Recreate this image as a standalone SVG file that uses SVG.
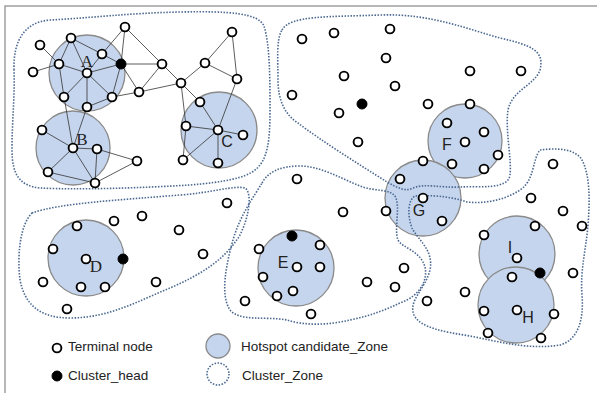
<svg xmlns="http://www.w3.org/2000/svg" width="597" height="393" viewBox="0 0 597 393">
<style>
.hz{fill:#c5d5ed;stroke:#8a8a8a;stroke-width:1.3}
.cz{fill:none;stroke:#4a6890;stroke-width:1.6;stroke-dasharray:1.5 1.5}
.t{fill:#fff;stroke:#000;stroke-width:1.9}
.h{fill:#000;stroke:#000;stroke-width:1}
.e line{stroke:#333;stroke-width:0.8}
.ls{font-family:"Liberation Sans",Arial,sans-serif;font-size:16px;fill:#222;text-anchor:middle}
.lr{font-family:"Liberation Serif","Times New Roman",serif;font-size:17px;fill:#222;text-anchor:middle}
.lg{font-family:"Liberation Sans",Arial,sans-serif;font-size:13.5px;fill:#222}
</style>
<rect x="0" y="0" width="597" height="393" fill="#fff"/>
<path d="M5,393 V6 H597" fill="none" stroke="#a0a0a0" stroke-width="1.5"/>

<g id="hotspots">
<g id="zone-A"><circle class="hz" cx="87" cy="73" r="38"/></g>
<g id="zone-B"><circle class="hz" cx="73" cy="148" r="37"/></g>
<g id="zone-C"><circle class="hz" cx="219" cy="130" r="38"/></g>
<g id="zone-D"><circle class="hz" cx="86" cy="258" r="38"/></g>
<g id="zone-E"><circle class="hz" cx="296" cy="268" r="38"/></g>
<g id="zone-F"><circle class="hz" cx="465" cy="141" r="37"/></g>
<g id="zone-G"><circle class="hz" cx="423" cy="198" r="38"/></g>
<g id="zone-I"><circle class="hz" cx="517" cy="254" r="38"/></g>
<g id="zone-H"><circle class="hz" cx="516" cy="305" r="38"/></g>
</g>

<g id="cluster-zones">
<path id="cz1" class="cz" d="M14,70 C13,40 25,22 50,20 C90,18 130,13 180,12 C230,11 258,13 264,26 C270,45 270,80 270,110 C270,140 268,160 255,170 C245,178 225,182 190,185 C140,188 80,190 40,188 C20,186 12,175 12,150 C12,120 15,95 14,70 Z"/>
<path id="cz2" class="cz" d="M282,30 C290,15 330,17 380,15 C430,13 470,30 500,38 C530,45 545,50 540,70 C535,85 512,90 508,110 C505,130 512,160 510,175 C508,190 480,186 460,187 C440,188 425,183 413,188 C405,192 398,188 387,182 C360,165 320,140 298,123 C285,115 278,100 278,80 C278,60 276,40 282,30 Z"/>
<path id="cz3" class="cz" d="M32,213 C60,203 120,200 180,195 C210,193 235,185 245,188 C252,192 250,215 240,235 C225,260 200,275 170,288 C140,300 110,318 70,318 C40,318 25,305 20,280 C17,255 20,225 32,213 Z"/>
<path id="cz4" class="cz" d="M262,183 C268,172 280,166 300,166 C320,166 340,178 360,186 C375,192 392,188 396,198 C400,210 394,230 398,240 C402,248 420,250 425,267 C428,280 420,296 400,303 C385,310 370,316 350,320 C330,325 305,326 287,320 C265,316 240,322 230,310 C220,295 226,265 233,240 C240,215 255,195 262,183 Z"/>
<path id="cz5" class="cz" d="M540,150 C555,148 575,148 582,160 C590,175 590,200 588,225 C586,250 580,270 582,295 C584,320 578,340 560,345 C530,350 500,342 470,336 C445,332 420,328 414,315 C408,300 425,290 430,270 C434,250 418,240 412,228 C407,215 408,200 415,196 C430,195 450,196 467,202 C485,204 505,200 520,190 C535,180 532,160 540,150 Z"/>
</g>

<g id="connectors" class="e">
<line x1="40" y1="45" x2="59" y2="64"/>
<line x1="33" y1="72" x2="59" y2="64"/>
<line x1="71" y1="38" x2="59" y2="64"/>
<line x1="71" y1="38" x2="102" y2="54"/>
<line x1="71" y1="38" x2="87" y2="73"/>
<line x1="125" y1="27" x2="102" y2="54"/>
<line x1="125" y1="27" x2="121" y2="64"/>
<line x1="125" y1="27" x2="162" y2="64"/>
<line x1="102" y1="54" x2="87" y2="73"/>
<line x1="102" y1="54" x2="121" y2="64"/>
<line x1="59" y1="64" x2="87" y2="73"/>
<line x1="59" y1="64" x2="64" y2="97"/>
<line x1="87" y1="73" x2="121" y2="64"/>
<line x1="87" y1="73" x2="64" y2="97"/>
<line x1="87" y1="73" x2="87" y2="107"/>
<line x1="87" y1="73" x2="112" y2="97"/>
<line x1="121" y1="64" x2="162" y2="64"/>
<line x1="121" y1="64" x2="112" y2="97"/>
<line x1="121" y1="64" x2="139" y2="92"/>
<line x1="162" y1="64" x2="139" y2="92"/>
<line x1="162" y1="64" x2="181" y2="83"/>
<line x1="139" y1="92" x2="181" y2="83"/>
<line x1="112" y1="97" x2="139" y2="92"/>
<line x1="112" y1="97" x2="87" y2="107"/>
<line x1="181" y1="83" x2="205" y2="63"/>
<line x1="205" y1="63" x2="237" y2="79"/>
<line x1="205" y1="63" x2="232" y2="32"/>
<line x1="232" y1="32" x2="237" y2="79"/>
<line x1="237" y1="79" x2="218" y2="130"/>
<line x1="181" y1="83" x2="200" y2="102"/>
<line x1="181" y1="83" x2="186" y2="126"/>
<line x1="186" y1="126" x2="183" y2="160"/>
<line x1="200" y1="102" x2="218" y2="130"/>
<line x1="186" y1="126" x2="218" y2="130"/>
<line x1="218" y1="130" x2="243" y2="135"/>
<line x1="218" y1="130" x2="218" y2="163"/>
<line x1="218" y1="130" x2="183" y2="160"/>
<line x1="64" y1="97" x2="73" y2="148"/>
<line x1="87" y1="107" x2="73" y2="148"/>
<line x1="42" y1="130" x2="73" y2="148"/>
<line x1="73" y1="148" x2="97" y2="149"/>
<line x1="73" y1="148" x2="48" y2="172"/>
<line x1="73" y1="148" x2="95" y2="183"/>
<line x1="97" y1="149" x2="95" y2="183"/>
<line x1="97" y1="149" x2="137" y2="161"/>
<line x1="48" y1="172" x2="95" y2="183"/>
<line x1="137" y1="161" x2="95" y2="183"/>
</g>

<g id="nodes">
<g id="n1"><circle class="t" cx="125" cy="27" r="4.4"/></g>
<g id="n2"><circle class="t" cx="71" cy="38" r="4.4"/></g>
<g id="n3"><circle class="t" cx="40" cy="45" r="4.4"/></g>
<g id="n4"><circle class="t" cx="102" cy="54" r="4.4"/></g>
<g id="n5"><circle class="t" cx="59" cy="64" r="4.4"/></g>
<g id="n6"><circle class="t" cx="33" cy="72" r="4.4"/></g>
<g id="n7"><circle class="t" cx="87" cy="73" r="4.4"/></g>
<g id="h1"><circle class="h" cx="121" cy="64" r="5"/></g>
<g id="n9"><circle class="t" cx="162" cy="64" r="4.4"/></g>
<g id="n10"><circle class="t" cx="139" cy="92" r="4.4"/></g>
<g id="n11"><circle class="t" cx="181" cy="83" r="4.4"/></g>
<g id="n12"><circle class="t" cx="205" cy="63" r="4.4"/></g>
<g id="n13"><circle class="t" cx="232" cy="32" r="4.4"/></g>
<g id="n14"><circle class="t" cx="237" cy="79" r="4.4"/></g>
<g id="n15"><circle class="t" cx="64" cy="97" r="4.4"/></g>
<g id="n16"><circle class="t" cx="112" cy="97" r="4.4"/></g>
<g id="n17"><circle class="t" cx="87" cy="107" r="4.4"/></g>
<g id="n18"><circle class="t" cx="200" cy="102" r="4.4"/></g>
<g id="n19"><circle class="t" cx="186" cy="126" r="4.4"/></g>
<g id="n20"><circle class="t" cx="218" cy="130" r="4.4"/></g>
<g id="n21"><circle class="t" cx="243" cy="135" r="4.4"/></g>
<g id="n22"><circle class="t" cx="183" cy="160" r="4.4"/></g>
<g id="n23"><circle class="t" cx="218" cy="163" r="4.4"/></g>
<g id="n24"><circle class="t" cx="42" cy="130" r="4.4"/></g>
<g id="n25"><circle class="t" cx="73" cy="148" r="4.4"/></g>
<g id="n26"><circle class="t" cx="97" cy="149" r="4.4"/></g>
<g id="n27"><circle class="t" cx="137" cy="161" r="4.4"/></g>
<g id="n28"><circle class="t" cx="48" cy="172" r="4.4"/></g>
<g id="n29"><circle class="t" cx="95" cy="183" r="4.4"/></g>

<g id="n30"><circle class="t" cx="302" cy="39" r="4.4"/></g>
<g id="n31"><circle class="t" cx="334" cy="33" r="4.4"/></g>
<g id="n32"><circle class="t" cx="390" cy="29" r="4.4"/></g>
<g id="n33"><circle class="t" cx="386" cy="58" r="4.4"/></g>
<g id="n34"><circle class="t" cx="344" cy="76" r="4.4"/></g>
<g id="n35"><circle class="t" cx="395" cy="86" r="4.4"/></g>
<g id="n36"><circle class="t" cx="292" cy="95" r="4.4"/></g>
<g id="h2"><circle class="h" cx="362" cy="104" r="5"/></g>
<g id="n38"><circle class="t" cx="339" cy="113" r="4.4"/></g>
<g id="n39"><circle class="t" cx="428" cy="104" r="4.4"/></g>
<g id="n40"><circle class="t" cx="470" cy="71" r="4.4"/></g>
<g id="n41"><circle class="t" cx="521" cy="71" r="4.4"/></g>
<g id="n42"><circle class="t" cx="358" cy="142" r="4.4"/></g>
<g id="n43"><circle class="t" cx="470" cy="104" r="4.4"/></g>
<g id="n44"><circle class="t" cx="447" cy="123" r="4.4"/></g>
<g id="n45"><circle class="t" cx="484" cy="132" r="4.4"/></g>
<g id="n46"><circle class="t" cx="465" cy="142" r="4.4"/></g>
<g id="n47"><circle class="t" cx="498" cy="155" r="4.4"/></g>
<g id="n48"><circle class="t" cx="452" cy="164" r="4.4"/></g>
<g id="n49"><circle class="t" cx="484" cy="169" r="4.4"/></g>
<g id="n50"><circle class="t" cx="423" cy="161" r="4.4"/></g>
<g id="n51"><circle class="t" cx="400" cy="179" r="4.4"/></g>
<g id="n52"><circle class="t" cx="423" cy="198" r="4.4"/></g>
<g id="n53"><circle class="t" cx="386" cy="211" r="4.4"/></g>
<g id="n54"><circle class="t" cx="442" cy="221" r="4.4"/></g>

<g id="n55"><circle class="t" cx="77" cy="226" r="4.4"/></g>
<g id="n56"><circle class="t" cx="114" cy="221" r="4.4"/></g>
<g id="n57"><circle class="t" cx="142" cy="216" r="4.4"/></g>
<g id="n58"><circle class="t" cx="179" cy="230" r="4.4"/></g>
<g id="n59"><circle class="t" cx="227" cy="203" r="4.4"/></g>
<g id="n60"><circle class="t" cx="203" cy="254" r="4.4"/></g>
<g id="n61"><circle class="t" cx="53" cy="249" r="4.4"/></g>
<g id="n62"><circle class="t" cx="86" cy="259" r="4.4"/></g>
<g id="h3"><circle class="h" cx="123" cy="259" r="5"/></g>
<g id="n64"><circle class="t" cx="43" cy="282" r="4.4"/></g>
<g id="n65"><circle class="t" cx="81" cy="287" r="4.4"/></g>
<g id="n66"><circle class="t" cx="105" cy="287" r="4.4"/></g>
<g id="n67"><circle class="t" cx="156" cy="282" r="4.4"/></g>
<g id="n68"><circle class="t" cx="67" cy="309" r="4.4"/></g>

<g id="n69"><circle class="t" cx="297" cy="179" r="4.4"/></g>
<g id="n70"><circle class="t" cx="343" cy="212" r="4.4"/></g>
<g id="h4"><circle class="h" cx="292" cy="236" r="5"/></g>
<g id="n72"><circle class="t" cx="320" cy="245" r="4.4"/></g>
<g id="n73"><circle class="t" cx="259" cy="249" r="4.4"/></g>
<g id="n74"><circle class="t" cx="297" cy="267" r="4.4"/></g>
<g id="n75"><circle class="t" cx="320" cy="267" r="4.4"/></g>
<g id="n76"><circle class="t" cx="263" cy="277" r="4.4"/></g>
<g id="n77"><circle class="t" cx="293" cy="291" r="4.4"/></g>
<g id="n78"><circle class="t" cx="277" cy="296" r="4.4"/></g>
<g id="n79"><circle class="t" cx="245" cy="301" r="4.4"/></g>
<g id="n80"><circle class="t" cx="311" cy="314" r="4.4"/></g>
<g id="n81"><circle class="t" cx="367" cy="282" r="4.4"/></g>
<g id="n82"><circle class="t" cx="395" cy="287" r="4.4"/></g>
<g id="n83"><circle class="t" cx="404" cy="268" r="4.4"/></g>
<g id="n84"><circle class="t" cx="427" cy="301" r="4.4"/></g>

<g id="n85"><circle class="t" cx="553" cy="164" r="4.4"/></g>
<g id="n86"><circle class="t" cx="531" cy="198" r="4.4"/></g>
<g id="n87"><circle class="t" cx="563" cy="211" r="4.4"/></g>
<g id="n88"><circle class="t" cx="582" cy="226" r="4.4"/></g>
<g id="n89"><circle class="t" cx="535" cy="226" r="4.4"/></g>
<g id="n90"><circle class="t" cx="484" cy="235" r="4.4"/></g>
<g id="n91"><circle class="t" cx="517" cy="258" r="4.4"/></g>
<g id="n92"><circle class="t" cx="573" cy="273" r="4.4"/></g>
<g id="h5"><circle class="h" cx="540" cy="273" r="5"/></g>
<g id="n94"><circle class="t" cx="512" cy="277" r="4.4"/></g>
<g id="n95"><circle class="t" cx="465" cy="292" r="4.4"/></g>
<g id="n96"><circle class="t" cx="484" cy="311" r="4.4"/></g>
<g id="n97"><circle class="t" cx="517" cy="310" r="4.4"/></g>
<g id="n98"><circle class="t" cx="554" cy="314" r="4.4"/></g>
<g id="n99"><circle class="t" cx="488" cy="333" r="4.4"/></g>
<g id="n100"><circle class="t" cx="541" cy="338" r="4.4"/></g>
</g>

<g id="zone-labels">
<text class="lr" x="87" y="67">A</text>
<text class="lr" x="82" y="145">B</text>
<text class="ls" x="227" y="147">C</text>
<text class="lr" x="96" y="272">D</text>
<text class="ls" x="283" y="268">E</text>
<text class="ls" x="447" y="150">F</text>
<text class="ls" x="419" y="216">G</text>
<text class="ls" x="510" y="253">I</text>
<text class="ls" x="528" y="323">H</text>
</g>

<g id="legend">
<g id="lg-terminal"><circle class="t" cx="57" cy="348" r="4.4"/><text class="lg" x="68" y="351">Terminal node</text></g>
<g id="lg-head"><circle class="h" cx="57" cy="376" r="5"/><text class="lg" x="68" y="380">Cluster_head</text></g>
<g id="lg-hotspot"><circle class="hz" cx="218" cy="346" r="12"/><text class="lg" x="241" y="351">Hotspot candidate_Zone</text></g>
<g id="lg-cluster"><circle class="cz" cx="218" cy="374" r="11"/><text class="lg" x="242" y="380">Cluster_Zone</text></g>
</g>
</svg>
